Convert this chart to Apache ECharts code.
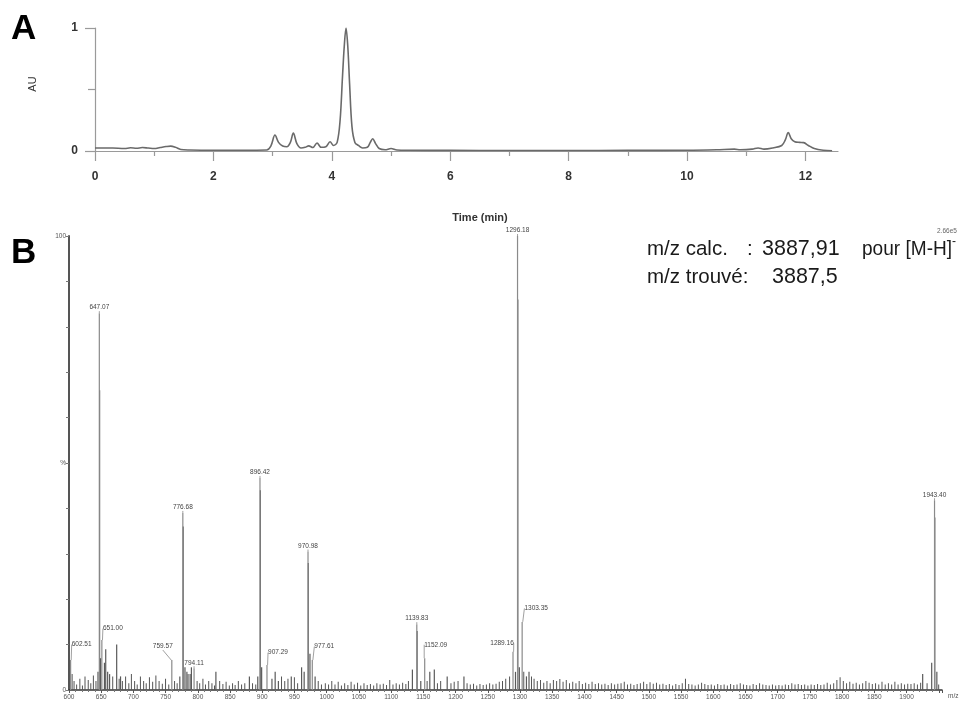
<!DOCTYPE html>
<html><head><meta charset="utf-8">
<script src="https://cdn.jsdelivr.net/npm/echarts@6/dist/echarts.min.js"></script>
<style>html,body{margin:0;padding:0;background:#fff}#c{width:976px;height:702px}</style>
</head><body><div id="c"></div>
<script>
// ---- Panel A: HPLC chromatogram (time in min, absorbance AU) ----
const chromTime = [0,0.3,0.5,0.6,0.7,0.8,0.9,1.0,1.1,1.2,1.28,1.36,1.45,1.6,2.0,2.5,2.9,2.97,3.04,3.1,3.17,3.24,3.3,3.35,3.41,3.48,3.55,3.61,3.68,3.75,3.82,3.9,3.97,4.03,4.09,4.14,4.18,4.21,4.24,4.27,4.3,4.34,4.39,4.45,4.52,4.6,4.65,4.69,4.74,4.8,4.9,5.0,5.1,5.3,6,7,8,9,10,10.5,10.8,10.9,11.1,11.2,11.3,11.45,11.6,11.66,11.71,11.76,11.82,11.9,11.97,12.05,12.15,12.3,12.45];
const chromAU   = [0.025,0.024,0.02,0.026,0.022,0.028,0.024,0.02,0.028,0.036,0.04,0.03,0.012,0.008,0.006,0.006,0.008,0.04,0.13,0.07,0.04,0.035,0.07,0.145,0.06,0.025,0.03,0.042,0.028,0.065,0.03,0.035,0.075,0.045,0.07,0.25,0.6,0.85,1.0,0.85,0.55,0.2,0.07,0.045,0.025,0.03,0.07,0.1,0.06,0.02,0.01,0.02,0.008,0.006,0.005,0.004,0.004,0.005,0.006,0.01,0.015,0.01,0.015,0.025,0.015,0.025,0.045,0.09,0.15,0.1,0.075,0.07,0.068,0.045,0.02,0.006,0.002];
const timeTicksA = [0,2,4,6,8,10,12];
const timeMinorTicksA = [1,3,5,7,9,11];

// ---- Panel B: mass spectrum (m/z, relative intensity %) ----
const labeledMz  = [602.51,647.07,651.00,759.57,776.68,794.11,896.42,907.29,970.98,977.61,1139.83,1152.09,1289.16,1296.18,1303.35,1943.40];
const labeledInt = [6.6,83,11,6.6,39,4.8,46.7,5.5,30.5,6.6,14.5,7,8.4,100,15,41.8];
const clusterMz  = [645,647.5,649,655,657,660,663,674,680,772,777.2,780,783,788,790,828,880,893,897,899,915,920,925,945,961,965,971.4,974,982,1133,1140.3,1146,1160,1167,1187,1213,1293,1296.6,1299,1310,1314,1925,1939,1943.8,1947];
const clusterInt = [4,66,7,6,9,4,3.5,10,3,3,36,5,4,3.5,5,4,3,3,44,5,2.5,4,2,3,5,4,28,8,3,4.5,13,2,4,4.5,3,3,4,86,5,3,4,3.5,6,38,4];
const noiseMz  = [605,608,612,617,621,625,630,634,638,642,668,678,683,688,693,697,702,706,711,716,720,725,730,735,740,745,750,755,764,768,785,799,803,808,812,817,822,826,834,839,844,849,854,858,863,868,873,885,890,930,935,940,950,955,987,992,998,1003,1008,1013,1018,1023,1028,1033,1038,1043,1048,1053,1058,1063,1068,1073,1078,1083,1088,1093,1098,1103,1108,1113,1118,1123,1127,1156,1172,1177,1193,1198,1204,1218,1223,1228,1233,1238,1243,1248,1253,1258,1263,1268,1273,1278,1284,1306,1318,1322,1327,1332,1337,1342,1347,1352,1357,1362,1367,1372,1377,1382,1387,1392,1397,1402,1407,1412,1417,1422,1427,1432,1437,1442,1447,1452,1457,1462,1467,1472,1477,1482,1487,1492,1497,1502,1507,1512,1517,1522,1527,1532,1537,1542,1547,1552,1557,1562,1567,1572,1577,1582,1587,1592,1597,1602,1607,1612,1617,1622,1627,1632,1637,1642,1647,1652,1657,1662,1667,1672,1677,1682,1687,1692,1697,1702,1707,1712,1717,1722,1727,1732,1737,1742,1747,1752,1757,1762,1767,1772,1777,1782,1787,1792,1797,1802,1807,1812,1817,1822,1827,1832,1837,1842,1847,1852,1857,1862,1867,1872,1877,1882,1887,1892,1897,1902,1907,1912,1917,1922,1932,1950];
const noiseInt = [3.5,2,1.2,2.5,1,3,2.2,1.5,3.2,2,3,2.5,2,3,1.5,3.5,2,1.2,3,2,1.5,2.8,1.8,3.2,2,1.4,2.5,1.2,2,1.5,3.5,2,1.5,2.5,1.2,2,1.5,1,2,1.3,1.8,1,1.5,1.1,2,1.2,1.5,1.5,1.2,3,2,2.5,2.8,1.5,2,1.2,1.5,1.2,2,1.2,1.8,1,1.5,1.1,1.8,1.2,1.6,1,1.5,1.1,1.3,1,1.5,1.2,1.4,1.1,2.2,1.2,1.5,1.2,1.6,1.3,2,2,1.5,2,1.5,1.8,2,1.5,1.2,1.4,1,1.3,1.1,1.2,1.5,1.2,1.4,1.8,2,2.5,3,4,3,2.5,2,2.2,1.6,2,1.5,2.2,2,2.4,1.8,2.2,1.5,1.8,1.5,2,1.3,1.6,1.3,1.8,1.3,1.5,1.2,1.4,1.1,1.5,1.2,1.4,1.5,1.8,1.2,1.4,1.1,1.3,1.5,1.8,1.3,1.7,1.4,1.6,1.2,1.4,1.1,1.3,1,1.3,1.1,1.5,2.5,1.3,1.2,1,1.2,1.6,1.3,1.1,1.2,1,1.3,1.1,1.2,1,1.3,1.1,1.2,1.5,1.2,1.1,1,1.3,1.1,1.5,1.2,1.1,1,1.2,1,1.1,1,1.2,1.1,1.5,1.2,1.3,1.1,1.2,1,1.2,1.1,1.3,1.1,1.2,1.6,1.2,1.5,2.2,2.8,2,1.5,1.8,1.4,1.6,1.2,1.5,2,1.6,1.3,1.5,1.2,1.8,1.2,1.5,1.2,1.8,1.2,1.5,1.2,1.4,1.3,1.5,1.2,1.6,1.5,1.2];
const mzTickStart = 600, mzTickEnd = 1900;

// label offsets (layout only) for labelled peaks, by index in labeledMz
const labelShift = [[11,-10],[0,0],[11,-6],[-9,-8],[0,0],[0,0],[0,0],[11,-7],[0,0],[12,-8],[0,0],[11,-8],[-11,-3],[0,0],[14,-8],[0,0]];

const chart = echarts.init(document.getElementById('c'), null, {renderer:'canvas'});
const FONT = '"Liberation Sans", Arial, sans-serif';

const chromData = chromTime.map((t,i)=>[t, chromAU[i]]);
const pair = (xs, ys) => xs.map((x,i)=>[x, ys[i]]);
const ann = (x, y, text, size, sx) => ({type:'text', x:x, y:y, scaleX:sx||1, style:{text:text, font:size+'px '+FONT, fill:'#1a1a1a', verticalAlign:'middle'}});

chart.setOption({
  animation:false,
  textStyle:{fontFamily:FONT},
  grid:[
    {left:95, top:28, width:743, height:123},
    {left:69, top:236, width:873, height:454}
  ],
  xAxis:[
    {gridIndex:0, type:'value', min:0, max:12.55, position:'bottom',
     axisLine:{lineStyle:{color:'#9a9a9a', width:1.2}},
     axisTick:{length:10, customValues:timeTicksA, lineStyle:{color:'#9a9a9a', width:1.2}},
     splitLine:{show:false},
     axisLabel:{margin:20, fontSize:12, fontWeight:'bold', color:'#333', fontFamily:FONT, customValues:timeTicksA}},
    {gridIndex:1, type:'value', min:600, max:1955, interval:50, position:'bottom',
     axisLine:{lineStyle:{color:'#333', width:1.5}},
     axisTick:{length:3, lineStyle:{color:'#555'}},
     minorTick:{show:true, splitNumber:5, length:2, lineStyle:{color:'#777'}},
     splitLine:{show:false},
     name:'m/z', nameLocation:'end', nameGap:6,
     nameTextStyle:{fontSize:6.5, color:'#555', fontFamily:FONT, verticalAlign:'top', padding:[3,0,0,0]},
     axisLabel:{margin:4, fontSize:6.5, color:'#555', fontFamily:FONT, showMaxLabel:false,
       formatter:v=> (v>=mzTickStart && v<=mzTickEnd) ? String(v) : ''}},
    {gridIndex:0, type:'value', min:0, max:12.55, position:'bottom', offset:0,
     axisLine:{show:false},
     axisTick:{length:5, customValues:timeMinorTicksA, lineStyle:{color:'#9a9a9a', width:1.2}},
     splitLine:{show:false},
     axisLabel:{show:false}}
  ],
  yAxis:[
    {gridIndex:0, type:'value', min:0, max:1, interval:1,
     axisLine:{show:true, lineStyle:{color:'#9a9a9a', width:1.2}},
     axisTick:{show:true, length:10, lineStyle:{color:'#9a9a9a', width:1.2}},
     minorTick:{show:true, splitNumber:2, length:7, lineStyle:{color:'#9a9a9a', width:1.2}},
     splitLine:{show:false},
     axisLabel:{margin:17, fontSize:12, fontWeight:'bold', color:'#333', fontFamily:FONT}},
    {gridIndex:1, type:'value', min:0, max:100, interval:10,
     axisLine:{show:true, lineStyle:{color:'#555', width:2}},
     axisTick:{show:true, length:3, lineStyle:{color:'#777'}},
     splitLine:{show:false},
     axisLabel:{margin:3, fontSize:6.5, color:'#555', fontFamily:FONT,
       formatter:v=> v===100?'100':(v===50?'%':(v===0?'0':''))}}
  ],
  series:[
    {type:'line', xAxisIndex:0, yAxisIndex:0, data:chromData, smooth:0.35, showSymbol:false,
     lineStyle:{color:'#6a6a6a', width:1.6}},
    {type:'bar', xAxisIndex:1, yAxisIndex:1, data:pair(noiseMz, noiseInt), barWidth:1,
     itemStyle:{color:'#555'}, barGap:'-100%'},
    {type:'bar', xAxisIndex:1, yAxisIndex:1, data:pair(clusterMz, clusterInt), barWidth:1.2,
     itemStyle:{color:'#5a5a5a'}, barGap:'-100%'},
    {type:'bar', xAxisIndex:1, yAxisIndex:1, data:pair(labeledMz, labeledInt), barWidth:1.2,
     itemStyle:{color:'#8a8a8a'}, barGap:'-100%',
     label:{show:true, position:'top', distance:2, fontSize:6.5, color:'#444', fontFamily:FONT,
       formatter:p=> labeledMz[p.dataIndex].toFixed(2)},
     labelLine:{show:true, lineStyle:{color:'#888', width:0.8}},
     labelLayout:p=>{ const s = labelShift[p.dataIndex]; return {dx:s[0], dy:s[1]}; }}
  ],
  graphic:[
    {type:'text', left:11, top:12, style:{text:'A', font:'bold 35px '+FONT, fill:'#000'}},
    {type:'text', left:11, top:236, style:{text:'B', font:'bold 35px '+FONT, fill:'#000'}},
    {type:'text', x:33, y:84, rotation:Math.PI/2, style:{text:'AU', font:'11px '+FONT, fill:'#333', align:'center', verticalAlign:'middle'}},
    {type:'text', x:480, y:218, style:{text:'Time (min)', font:'bold 11px '+FONT, fill:'#333', align:'center', verticalAlign:'middle'}},
    {type:'text', x:947, y:231, style:{text:'2.66e5', font:'6.5px '+FONT, fill:'#666', align:'center', verticalAlign:'middle'}},
    ann(647, 249, 'm/z calc.', 20.5),
    ann(747, 249, ':', 20.5),
    ann(762, 249, '3887,91', 21.5),
    ann(862, 249, 'pour [M-H]', 20.5, 0.93),
    {type:'text', x:952, y:242, style:{text:'-', font:'12px '+FONT, fill:'#1a1a1a', verticalAlign:'middle'}},
    ann(647, 277, 'm/z trouvé:', 20.5),
    ann(772, 277, '3887,5', 21.5)
  ]
});
</script></body></html>
